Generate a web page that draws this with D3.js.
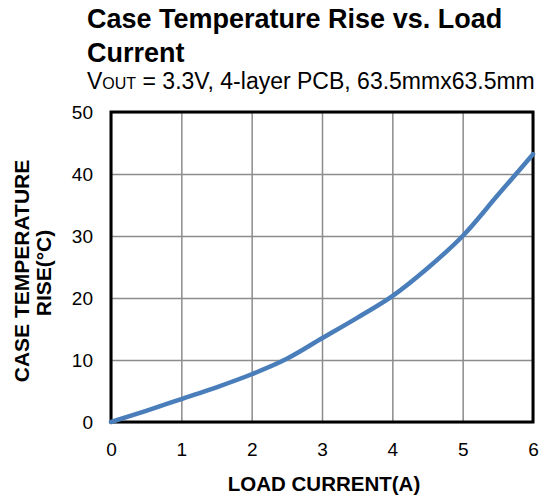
<!DOCTYPE html>
<html>
<head>
<meta charset="utf-8">
<script src="https://cdn.jsdelivr.net/npm/d3@7"></script>
<style>
body { margin: 0; background: #fff; }
text { font-family: "Liberation Sans", Arial, sans-serif; }
</style>
</head>
<body>
<script>
var w = 544;
var h = 497;

// load current (A) and case temperature rise (°C)
var current = [0, 0.5, 1, 1.5, 2, 2.5, 3, 3.5, 4, 4.5, 5, 5.5, 6];
var tempRise = [0, 1.8, 3.7, 5.6, 7.7, 10.2, 13.5, 16.8, 20.3, 24.8, 30, 36.6, 43.2];
var xTicks = [0, 1, 2, 3, 4, 5, 6];
var yTicks = [0, 10, 20, 30, 40, 50];

var plotLeft = 111, plotRight = 533, plotTop = 112, plotBottom = 422;

var xScale = d3.scaleLinear().domain([0, 6]).range([plotLeft, plotRight]);
var yScale = d3.scaleLinear().domain([0, 50]).range([plotBottom, plotTop]);

var svg = d3.select("body")
    .append("svg")
    .attr("width", w)
    .attr("height", h);

// grid
svg.append("g")
    .attr("transform", "translate(0," + plotBottom + ")")
    .call(d3.axisBottom(xScale).tickValues(xTicks).tickSize(-(plotBottom - plotTop)).tickFormat(""))
    .call(function(g) { g.select(".domain").remove(); })
    .selectAll("line").attr("stroke", "#8c8c8c").attr("stroke-width", 1.5);

svg.append("g")
    .attr("transform", "translate(" + plotLeft + ",0)")
    .call(d3.axisLeft(yScale).tickValues(yTicks).tickSize(-(plotRight - plotLeft)).tickFormat(""))
    .call(function(g) { g.select(".domain").remove(); })
    .selectAll("line").attr("stroke", "#8c8c8c").attr("stroke-width", 1.5);

// frame
svg.append("rect")
    .attr("x", plotLeft)
    .attr("y", plotTop)
    .attr("width", plotRight - plotLeft)
    .attr("height", plotBottom - plotTop)
    .attr("fill", "none")
    .attr("stroke", "#000")
    .attr("stroke-width", 3);

// tick labels
var xAxis = svg.append("g")
    .attr("transform", "translate(0," + plotBottom + ")")
    .call(d3.axisBottom(xScale).tickValues(xTicks).tickFormat(d3.format("d")).tickSize(0).tickPadding(21));
xAxis.select(".domain").remove();
xAxis.selectAll("text").attr("font-size", 19).attr("fill", "#000")
    .style("font-family", "Liberation Sans, Arial, sans-serif");

var yAxis = svg.append("g")
    .attr("transform", "translate(" + plotLeft + ",0)")
    .call(d3.axisLeft(yScale).tickValues(yTicks).tickFormat(d3.format("d")).tickSize(0).tickPadding(18));
yAxis.select(".domain").remove();
yAxis.selectAll("text").attr("font-size", 19).attr("fill", "#000")
    .style("font-family", "Liberation Sans, Arial, sans-serif");

// curve
var line = d3.line()
    .x(function(d) { return xScale(d[0]); })
    .y(function(d) { return yScale(d[1]); })
    .curve(d3.curveCatmullRom.alpha(0.5));

svg.append("path")
    .datum(d3.zip(current, tempRise))
    .attr("d", line)
    .attr("fill", "none")
    .attr("stroke", "#4a7ebb")
    .attr("stroke-width", 4.5)
    .attr("stroke-linecap", "round");

// titles
svg.append("text")
    .attr("x", 87).attr("y", 28)
    .attr("font-size", 27).attr("font-weight", "bold")
    .text("Case Temperature Rise vs. Load");
svg.append("text")
    .attr("x", 87).attr("y", 62)
    .attr("font-size", 27).attr("font-weight", "bold")
    .text("Current");

var sub = svg.append("text")
    .attr("x", 87).attr("y", 89)
    .attr("font-size", 23);
sub.append("tspan").text("V");
sub.append("tspan").attr("font-size", 16).text("OUT");
sub.append("tspan").text(" = 3.3V, 4-layer PCB, 63.5mmx63.5mm");

svg.append("text")
    .attr("x", 324).attr("y", 491)
    .attr("text-anchor", "middle")
    .attr("font-size", 20.5).attr("font-weight", "bold")
    .text("LOAD CURRENT(A)");

svg.append("text")
    .attr("transform", "translate(29,271) rotate(-90)")
    .attr("text-anchor", "middle")
    .attr("font-size", 21).attr("font-weight", "bold")
    .text("CASE TEMPERATURE");
svg.append("text")
    .attr("transform", "translate(51,273) rotate(-90)")
    .attr("text-anchor", "middle")
    .attr("font-size", 21).attr("font-weight", "bold")
    .text("RISE(°C)");
</script>
</body>
</html>
